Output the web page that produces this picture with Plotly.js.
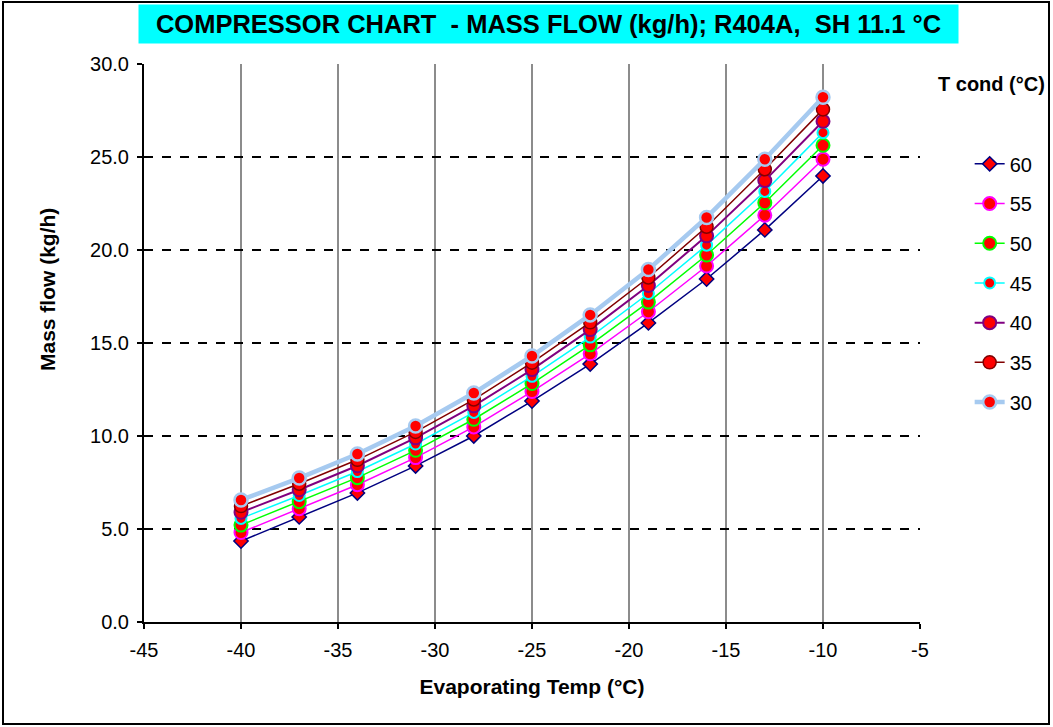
<!DOCTYPE html>
<html>
<head>
<meta charset="utf-8">
<script src="https://cdn.plot.ly/plotly-3.0.1.min.js"></script>
<style>
  html, body { margin: 0; padding: 0; background: #fff; }
  #wrap { position: relative; width: 1053px; height: 727px; }
  #chart { width: 1053px; height: 727px; }
  #frame { position: absolute; left: 2px; top: 1px; width: 1048px; height: 724px;
           border: 2px solid #000; box-sizing: border-box; pointer-events: none; }
</style>
</head>
<body>
<div id="wrap">
  <div id="chart"></div>
  <div id="frame"></div>
</div>
<script>
// Evaporating temperatures (°C)
const evapTemp = [-40, -37, -34, -31, -28, -25, -22, -19, -16, -13, -10];

// Mass flow (kg/h) for each condensing temperature
const flow60 = [4.35, 5.65, 6.94, 8.39, 10.00, 11.88, 13.87, 16.08, 18.44, 21.08, 23.98];
const flow55 = [4.81, 6.09, 7.38, 8.84, 10.49, 12.39, 14.42, 16.68, 19.14, 21.87, 24.88];
const flow50 = [5.21, 6.47, 7.76, 9.23, 10.90, 12.82, 14.90, 17.20, 19.73, 22.54, 25.63];
const flow45 = [5.57, 6.80, 8.09, 9.57, 11.27, 13.21, 15.32, 17.66, 20.26, 23.15, 26.31];
const flow40 = [5.90, 7.11, 8.40, 9.90, 11.62, 13.57, 15.72, 18.09, 20.76, 23.73, 26.92];
const flow35 = [6.23, 7.43, 8.72, 10.22, 11.96, 13.94, 16.11, 18.52, 21.25, 24.34, 27.56];
const flow30 = [6.56, 7.74, 9.03, 10.54, 12.31, 14.30, 16.51, 18.95, 21.75, 24.88, 28.21];

const condTemps = ['60', '55', '50', '45', '40', '35', '30'];
const flows = [flow60, flow55, flow50, flow45, flow40, flow35, flow30];

// Axis tick values and labels (plain hyphen minus)
const xTickVals = [-45, -40, -35, -30, -25, -20, -15, -10, -5];
const xTickText = ['-45', '-40', '-35', '-30', '-25', '-20', '-15', '-10', '-5'];

const styles = [
  { line: '#000080', lw: 1.5, sym: 'diamond', size: 11, mline: '#000080', mlw: 1.5 },
  { line: '#FF00FF', lw: 1.5, sym: 'circle',  size: 13, mline: '#FF00FF', mlw: 2 },
  { line: '#00FF00', lw: 1.5, sym: 'circle',  size: 13, mline: '#00FF00', mlw: 2 },
  { line: '#00FFFF', lw: 1.5, sym: 'circle',  size: 11, mline: '#00FFFF', mlw: 2 },
  { line: '#800080', lw: 2,   sym: 'circle',  size: 13, mline: '#800080', mlw: 2 },
  { line: '#800000', lw: 1.5, sym: 'circle',  size: 13, mline: '#800000', mlw: 1.5 },
  { line: '#A6CAF0', lw: 4.5, sym: 'circle',  size: 13, mline: '#A6CAF0', mlw: 2.5 }
];

const traces = condTemps.map((name, i) => ({
  x: evapTemp,
  y: flows[i],
  name: name,
  type: 'scatter',
  mode: 'lines+markers',
  legendgroup: 'g' + name,
  line: { color: styles[i].line, width: styles[i].lw },
  marker: {
    symbol: styles[i].sym,
    size: styles[i].size,
    color: '#FF0000',
    line: { color: styles[i].mline, width: styles[i].mlw }
  },
  hoverinfo: 'x+y+name'
}));

const baseFont = 'Liberation Sans, Arial, sans-serif';

const layout = {
  width: 1053,
  height: 727,
  margin: { l: 144, r: 133, t: 64, b: 105 },
  paper_bgcolor: '#FFFFFF',
  plot_bgcolor: '#FFFFFF',
  showlegend: true,
  font: { family: baseFont, size: 20, color: '#000' },
  xaxis: {
    range: [-45, -5],
    tickmode: 'array',
    tickvals: xTickVals,
    ticktext: xTickText,
    showgrid: true,
    gridcolor: '#8C8C8C',
    gridwidth: 2,
    zeroline: false,
    showline: true,
    linecolor: '#000',
    linewidth: 2,
    ticks: 'outside',
    ticklen: 5,
    tickwidth: 1.5,
    tickcolor: '#000',
    ticklabelstandoff: 4,
    tickfont: { family: baseFont, size: 20, color: '#000' },
    title: {
      text: '<b>Evaporating Temp (°C)</b>',
      font: { family: baseFont, size: 21, color: '#000' },
      standoff: 19
    }
  },
  yaxis: {
    range: [0, 30],
    dtick: 5,
    tick0: 0,
    tickformat: '.1f',
    showgrid: true,
    gridcolor: '#000',
    gridwidth: 1.5,
    griddash: 'dash',
    zeroline: false,
    showline: true,
    linecolor: '#000',
    linewidth: 2,
    ticks: 'outside',
    ticklen: 5,
    tickwidth: 1.5,
    tickcolor: '#000',
    ticklabelstandoff: 4,
    tickfont: { family: baseFont, size: 20, color: '#000' }
  },
  legend: {
    x: 1.064,
    xanchor: 'left',
    y: 0.856,
    yanchor: 'top',
    traceorder: 'grouped',
    tracegroupgap: 10.7,
    bgcolor: 'rgba(0,0,0,0)',
    borderwidth: 0,
    font: { family: baseFont, size: 20, color: '#000' }
  },
  annotations: [
    {
      text: '<b>COMPRESSOR CHART  - MASS FLOW (kg/h); R404A,  SH 11.1 °C</b>',
      xref: 'paper', yref: 'paper',
      x: 0.5213, y: 1.0717,
      xanchor: 'center', yanchor: 'middle',
      showarrow: false,
      bgcolor: '#00FFFF',
      width: 817, height: 36,
      font: { family: baseFont, size: 25.5, color: '#000' }
    },
    {
      text: '<b>Mass flow (kg/h)</b>',
      xref: 'paper', yref: 'paper',
      x: -0.1237, y: 0.595,
      xanchor: 'center', yanchor: 'middle',
      textangle: -90,
      showarrow: false,
      font: { family: baseFont, size: 21, color: '#000' }
    },
    {
      text: '<b>T cond (°C)</b>',
      xref: 'paper', yref: 'paper',
      x: 1.02, y: 0.965,
      xanchor: 'left', yanchor: 'middle',
      showarrow: false,
      font: { family: baseFont, size: 20, color: '#000' }
    }
  ]
};

Plotly.newPlot('chart', traces, layout, { displayModeBar: false, staticPlot: true });
</script>
</body>
</html>
